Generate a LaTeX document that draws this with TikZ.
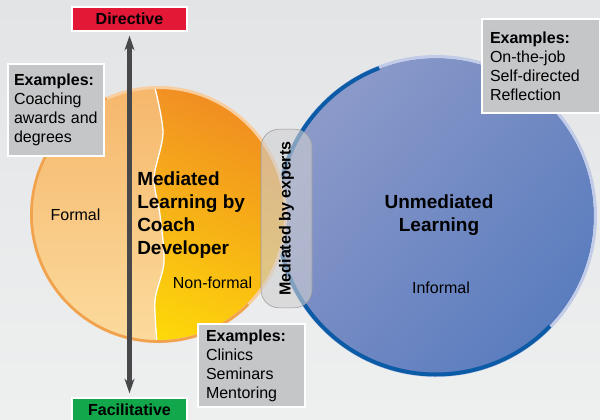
\documentclass[tikz,border=0pt]{standalone}
\usepackage{fontspec}
\setmainfont{Liberation Sans}
\usetikzlibrary{arrows.meta,shadings}
\definecolor{bgtop}{HTML}{E3E4E6}
\definecolor{bgbot}{HTML}{EEEFEF}
\definecolor{dirred}{HTML}{E31837}
\definecolor{facgreen}{HTML}{12A74B}
\definecolor{exgrey}{HTML}{C5C6C8}
\definecolor{arrowgrey}{HTML}{48484B}
\definecolor{bluering}{HTML}{C2CCE8}
\definecolor{bluedark}{HTML}{0B5BA7}
\definecolor{blueul}{HTML}{96A1CC}
\definecolor{blueur}{HTML}{7088C2}
\definecolor{bluell}{HTML}{768AC4}
\definecolor{bluelr}{HTML}{5078BC}
\definecolor{orangeul}{HTML}{F5A028}
\definecolor{orangeur}{HTML}{EE8220}
\definecolor{orangell}{HTML}{FFEC00}
\definecolor{orangelr}{HTML}{FCC810}
\definecolor{formaltop}{HTML}{F5B66A}
\definecolor{formalbot}{HTML}{FCDC9E}
\definecolor{orangering}{HTML}{F9CE9E}
\definecolor{orangedark}{HTML}{F0A24C}
\definecolor{medfill}{HTML}{CFCFD1}
\definecolor{medline}{HTML}{9B9B9D}
\tikzset{
  exbox/.style={draw=white, line width=1.5pt, fill=exgrey, anchor=north west, align=left, inner xsep=6pt, inner ysep=0pt, font=\fontsize{12}{14.25}\selectfont},
  endbox/.style={draw=white, line width=1pt, minimum width=86.25pt, minimum height=18pt, inner sep=0pt, font=\bfseries\fontsize{12}{14}\selectfont},
  head/.style={inner sep=0pt, font=\bfseries\fontsize{14.25}{17.25}\selectfont},
  lbl/.style={inner sep=0pt, font=\fontsize{12}{14}\selectfont}
}
\begin{document}
\begin{tikzpicture}[x=0.75pt,y=-0.75pt]
  \useasboundingbox (0,0) rectangle (600,419);
  \clip (0,0) rectangle (600,419);
  \shade[top color=bgtop, bottom color=bgbot] (0,0) rectangle (600,419);

  \shade[upper left=blueul, upper right=blueur, lower left=bluell, lower right=bluelr] (436,216) circle (158);
  \draw[bluering, line width=2.25pt] (436,216) circle (159.5);
  \draw[bluedark, line width=3pt] (436,216) ++(-111:158.5) arc[start angle=-111, end angle=-316, radius=158.5];

  \shade[upper left=orangeul, upper right=orangeur, lower left=orangell, lower right=orangelr] (158.5,214.5) circle (126);
  \begin{scope}
    \clip (158.5,214.5) circle (126);
    \shade[top color=formaltop, bottom color=formalbot]
      (20,80) -- (155,80) -- plot[smooth] coordinates {(155,88) (163,133) (154,178) (160,215) (164,262) (155,300) (157,342)} -- (157,350) -- (20,350) -- cycle;
    \draw[white, line width=1pt] plot[smooth] coordinates {(155,88) (163,133) (154,178) (160,215) (164,262) (155,300) (157,342)};
  \end{scope}
  \draw[orangering, line width=2.25pt] (158.5,214.5) circle (127);
  \draw[orangedark, line width=2pt] (158.5,214.5) ++(-114:127) arc[start angle=-114, end angle=-315, radius=127];

  \node[draw=medline, fill=medfill, fill opacity=0.6, text opacity=1, rounded corners=13.5pt, rotate=90,
    minimum width=134pt, minimum height=38.25pt, font=\bfseries\fontsize{12}{14}\selectfont] (med) at (286.5,218.5) {Mediated by experts};

  \node[endbox, fill=dirred] (dir) at (129.5,19) {Directive};
  \node[endbox, fill=facgreen] (fac) at (129.5,410) {Facilitative};
  \path[{Stealth[length=11pt,width=7.5pt]}-{Stealth[length=11pt,width=7.5pt]}, line width=3.75pt, arrowgrey,
    shorten <=3pt, shorten >=3pt] (dir) edge (fac);

  \node[exbox, text width=63pt, minimum width=72pt, minimum height=69pt, inner xsep=4.5pt] (ex1) at (7,63) {\textbf{Examples:}\\Coaching\\awards and\\degrees};
  \node[exbox, text width=68.25pt, minimum width=80.25pt, minimum height=62.25pt] (ex2) at (197,323) {\textbf{Examples:}\\Clinics\\Seminars\\Mentoring};
  \node[exbox, text width=76.5pt, minimum width=88.5pt, minimum height=70.5pt] (ex3) at (481,18) {\textbf{Examples:}\\On-the-job\\Self-directed\\Reflection};

  \node[head, anchor=north west, align=left] (medl) at (137,171.5) {Mediated\\Learning by\\Coach\\Developer};
  \node[head, anchor=north, align=center] (unmed) at (439,194.5) {Unmediated\\Learning};
  \node[lbl, anchor=base] (formal) at (75.5,220.5) {Formal};
  \node[lbl, anchor=base] (nonformal) at (212.5,288) {Non-formal};
  \node[lbl, anchor=base] (informal) at (441,293) {Informal};
\end{tikzpicture}
\end{document}
